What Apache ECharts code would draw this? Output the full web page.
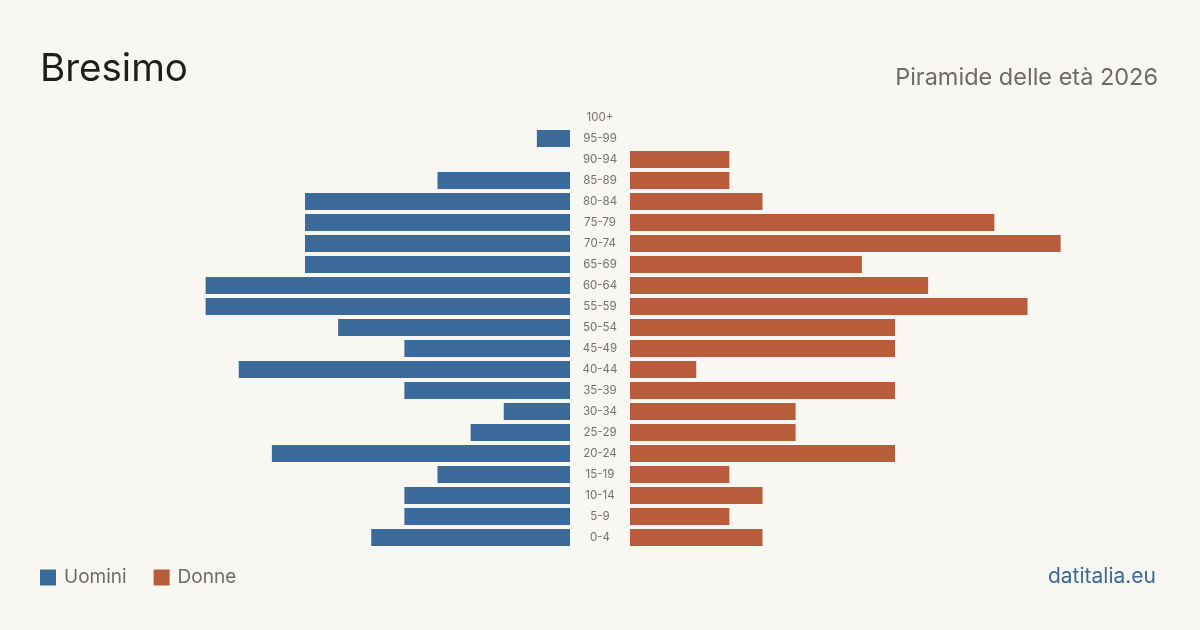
<!DOCTYPE html>
<html><head><meta charset="utf-8">
<script src="https://cdn.jsdelivr.net/npm/echarts@6/dist/echarts.min.js"></script>
<style>html,body{margin:0;padding:0;background:#f9f7f2;}#c{width:1200px;height:630px;}</style>
</head><body><div id="c"></div>
<script>
const ageGroups = ['0-4','5-9','10-14','15-19','20-24','25-29','30-34','35-39','40-44','45-49','50-54','55-59','60-64','65-69','70-74','75-79','80-84','85-89','90-94','95-99','100+'];
const uomini = [6,5,5,4,9,3,2,5,10,5,7,11,11,8,8,8,8,4,0,1,0];
const donne  = [4,3,4,3,8,5,5,8,2,8,8,12,9,7,13,11,4,3,3,0,0];
const titleText = 'Bresimo';
const subtitleText = 'Piramide delle età 2026';
const sourceText = 'datitalia.eu';
const BLUE = '#3b6a9a', RED = '#b85c3c';
const FONT = 'Inter, "Noto Sans", sans-serif';

const chart = echarts.init(document.getElementById('c'), null, {renderer:'canvas'});
chart.setOption({
  backgroundColor: '#f9f7f2',
  animation: false,
  textStyle: {fontFamily: FONT},
  title: [
    {text: titleText, left: 35, top: 45, textStyle: {fontFamily: FONT, fontSize: 38.5, fontWeight: 'normal', color: '#1e1e1e'}},
    {text: subtitleText, right: 37, top: 61, textStyle: {fontFamily: FONT, fontSize: 23.5, fontWeight: 'normal', color: '#6e6b66'}},
    {text: sourceText, right: 39, top: 561, textStyle: {fontFamily: FONT, fontSize: 21, fontWeight: 'normal', color: BLUE}}
  ],
  legend: {
    left: 40, top: 568, padding: 0, itemWidth: 16, itemHeight: 16, itemGap: 27,
    icon: 'rect',
    textStyle: {fontFamily: FONT, fontSize: 19, color: '#6e6b66', padding: [0,0,0,3]},
    data: ['Uomini','Donne']
  },
  grid: [
    {left: 40, width: 530, top: 107, height: 441},
    {left: 630, width: 530, top: 107, height: 441}
  ],
  xAxis: [
    {gridIndex: 0, type: 'value', min: 0, max: 16, inverse: true, show: false},
    {gridIndex: 1, type: 'value', min: 0, max: 16, show: false}
  ],
  yAxis: [
    {gridIndex: 0, type: 'category', data: ageGroups, show: false},
    {gridIndex: 1, type: 'category', data: ageGroups, position: 'left',
     axisLine: {show: false}, axisTick: {show: false}, splitLine: {show: false},
     axisLabel: {show: true, align: 'center', margin: 30, fontSize: 11.5, color: '#75716b', fontFamily: FONT}}
  ],
  series: [
    {name: 'Uomini', type: 'bar', xAxisIndex: 0, yAxisIndex: 0, data: uomini, barWidth: 17, itemStyle: {color: BLUE}},
    {name: 'Donne', type: 'bar', xAxisIndex: 1, yAxisIndex: 1, data: donne, barWidth: 17, itemStyle: {color: RED}}
  ]
});
</script></body></html>
